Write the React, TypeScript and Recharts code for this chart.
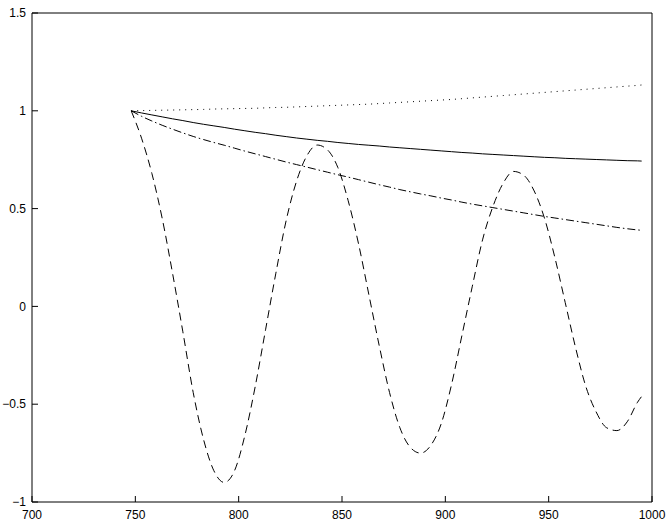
import React from 'react';
import { LineChart, Line, XAxis, YAxis } from 'recharts';

// sample positions along x
const xs = [
  748, 753, 758, 763, 768, 773, 778, 783, 788, 793,
  798, 803, 808, 813, 818, 823, 828, 833, 838, 843,
  848, 853, 858, 863, 868, 873, 878, 883, 888, 893,
  898, 903, 908, 913, 918, 923, 928, 933, 938, 943,
  948, 953, 958, 963, 968, 973, 978, 983, 988, 993, 995,
];

// solid curve
const solid = [
  1.0, 0.989, 0.979, 0.969, 0.959, 0.95, 0.94, 0.931, 0.923, 0.915,
  0.906, 0.898, 0.89, 0.883, 0.875, 0.868, 0.861, 0.855, 0.849, 0.844,
  0.838, 0.833, 0.828, 0.824, 0.82, 0.815, 0.811, 0.807, 0.803, 0.799,
  0.795, 0.791, 0.787, 0.784, 0.78, 0.777, 0.774, 0.771, 0.768, 0.765,
  0.762, 0.76, 0.757, 0.755, 0.753, 0.751, 0.749, 0.747, 0.745, 0.744, 0.743,
];

// dashed (oscillating) curve
const dashed = [
  1.0, 0.86, 0.68, 0.45, 0.17, -0.13, -0.44, -0.68, -0.84, -0.9,
  -0.84, -0.66, -0.41, -0.12, 0.17, 0.44, 0.64, 0.77, 0.825, 0.8,
  0.71, 0.54, 0.32, 0.06, -0.2, -0.44, -0.62, -0.72, -0.75, -0.71,
  -0.6, -0.4, -0.15, 0.1, 0.34, 0.51, 0.63, 0.69, 0.67, 0.59,
  0.45, 0.25, 0.02, -0.21, -0.41, -0.54, -0.62, -0.635, -0.59, -0.49, -0.46,
];

// dash-dot curve
const dashDot = [
  1.0, 0.972, 0.948, 0.926, 0.906, 0.887, 0.869, 0.853, 0.838, 0.824,
  0.809, 0.794, 0.78, 0.766, 0.752, 0.738, 0.725, 0.712, 0.699, 0.686,
  0.673, 0.661, 0.648, 0.635, 0.622, 0.61, 0.597, 0.586, 0.575, 0.565,
  0.554, 0.544, 0.533, 0.523, 0.514, 0.505, 0.496, 0.487, 0.478, 0.469,
  0.46, 0.452, 0.444, 0.436, 0.428, 0.42, 0.412, 0.404, 0.397, 0.391, 0.389,
];

// dotted curve
const dotted = [
  1.0, 1.001, 1.002, 1.003, 1.004, 1.005, 1.006, 1.007, 1.009, 1.01,
  1.011, 1.012, 1.013, 1.015, 1.017, 1.018, 1.02, 1.022, 1.024, 1.026,
  1.028, 1.03, 1.032, 1.034, 1.037, 1.04, 1.043, 1.046, 1.049, 1.052,
  1.055, 1.058, 1.062, 1.066, 1.07, 1.074, 1.078, 1.082, 1.086, 1.09,
  1.094, 1.098, 1.102, 1.106, 1.11, 1.114, 1.118, 1.122, 1.126, 1.13, 1.132,
];

const xTicks = [700, 750, 800, 850, 900, 950, 1000];
const yTicks = [-1, -0.5, 0, 0.5, 1, 1.5];

const rows = xs.map((x, i) => ({
  x,
  solid: solid[i],
  dashed: dashed[i],
  dashDot: dashDot[i],
  dotted: dotted[i],
}));

const FONT = '"Liberation Sans", Arial, Helvetica, sans-serif';
const TICK = 6;

const fmt = (v: number) => String(v).replace('-', '\u2212');

const LeftTick = (props: any) => {
  const { x, y, payload } = props;
  return (
    <g>
      <line x1={x} y1={y} x2={x + TICK} y2={y} stroke="#000" />
      <text x={x - 6} y={y} dy="0.35em" textAnchor="end" fontSize={12} fontFamily={FONT} fill="#000">
        {fmt(payload.value)}
      </text>
    </g>
  );
};

const RightTick = (props: any) => {
  const { x, y } = props;
  return <line x1={x} y1={y} x2={x - TICK} y2={y} stroke="#000" />;
};

const BottomTick = (props: any) => {
  const { x, y, payload } = props;
  return (
    <g>
      <line x1={x} y1={y} x2={x} y2={y - TICK} stroke="#000" />
      <text x={x} y={y + 17} textAnchor="middle" fontSize={12} fontFamily={FONT} fill="#000">
        {fmt(payload.value)}
      </text>
    </g>
  );
};

const TopTick = (props: any) => {
  const { x, y } = props;
  return <line x1={x} y1={y} x2={x} y2={y + TICK} stroke="#000" />;
};

export default function App() {
  return (
    <div style={{ position: 'absolute', left: 0, top: 0, background: '#fff' }}>
      <LineChart width={672} height={522} data={rows} margin={{ top: 0, right: 0, bottom: 0, left: 0 }}>
        <XAxis
          dataKey="x"
          type="number"
          domain={[700, 1000]}
          ticks={xTicks}
          height={20}
          tickSize={0}
          tickMargin={0}
          tickLine={false}
          axisLine={{ stroke: '#000' }}
          tick={<BottomTick />}
          interval={0}
        />
        <XAxis
          xAxisId="top"
          orientation="top"
          type="number"
          domain={[700, 1000]}
          ticks={xTicks}
          height={13}
          tickSize={0}
          tickMargin={0}
          tickLine={false}
          axisLine={{ stroke: '#000' }}
          tick={<TopTick />}
          interval={0}
        />
        <YAxis
          type="number"
          domain={[-1, 1.5]}
          ticks={yTicks}
          width={32}
          tickSize={0}
          tickMargin={0}
          tickLine={false}
          axisLine={{ stroke: '#000' }}
          tick={<LeftTick />}
          interval={0}
        />
        <YAxis
          yAxisId="right"
          orientation="right"
          type="number"
          domain={[-1, 1.5]}
          ticks={yTicks}
          width={20}
          tickSize={0}
          tickMargin={0}
          tickLine={false}
          axisLine={{ stroke: '#000' }}
          tick={<RightTick />}
          interval={0}
        />
        <Line type="monotone" dataKey="dotted" stroke="#000" strokeWidth={1} strokeDasharray="1 5" dot={false} isAnimationActive={false} />
        <Line type="monotone" dataKey="solid" stroke="#000" strokeWidth={1} dot={false} isAnimationActive={false} />
        <Line type="monotone" dataKey="dashDot" stroke="#000" strokeWidth={1} strokeDasharray="8 3 1.5 3" dot={false} isAnimationActive={false} />
        <Line type="monotone" dataKey="dashed" stroke="#000" strokeWidth={1} strokeDasharray="8 5" dot={false} isAnimationActive={false} />
      </LineChart>
    </div>
  );
}
